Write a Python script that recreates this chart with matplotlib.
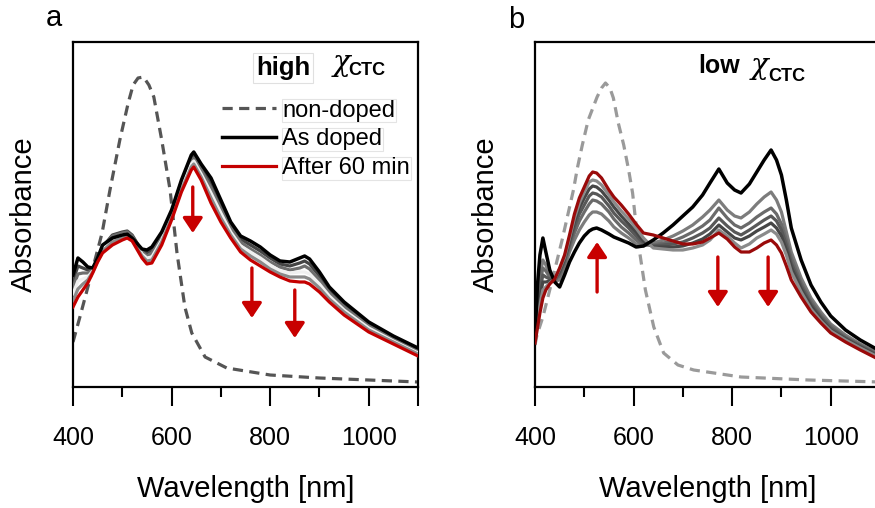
import matplotlib
matplotlib.use("Agg")
import matplotlib.pyplot as plt
from matplotlib.ticker import FixedLocator

plt.rcParams['font.family'] = ['Liberation Sans', 'DejaVu Sans']

# ---------------- Panel a (high chi_CTC) ----------------
wl_a = [400, 410, 420, 430, 440, 450, 460, 480, 500, 510, 520, 540, 550, 560, 580,
        600, 620, 640, 645, 660, 680, 700, 720, 740, 760, 780, 800, 820, 840, 860,
        870, 880, 900, 920, 950, 1000, 1050, 1100]
as_doped_a = [112, 129, 125, 120, 119, 129, 142, 149, 152, 153, 149, 138, 137, 140, 155,
              177, 207, 232, 235, 223, 209, 187, 165, 151, 146, 140, 132, 126, 125, 129,
              131, 128, 115, 100, 85, 65, 51, 39]
mid1_a = [106, 121, 119, 117, 118, 128, 140, 152, 155, 156, 152, 136, 134, 137, 152,
          175, 205, 229, 232, 220, 204, 183, 162, 148, 142, 136, 129, 123, 121, 124,
          126, 123, 111, 97, 82, 63, 49, 37]
mid2_a = [99, 113, 114, 114, 117, 127, 139, 151, 154, 155, 151, 135, 131, 134, 150,
          173, 202, 226, 229, 217, 199, 178, 159, 145, 138, 132, 125, 120, 117, 119,
          121, 118, 107, 94, 80, 61, 48, 36]
mid3_a = [93, 106, 108, 110, 116, 127, 137, 148, 152, 153, 149, 133, 129, 130, 147,
          171, 200, 223, 226, 213, 194, 174, 155, 141, 135, 129, 122, 116, 114, 115,
          115, 113, 103, 91, 77, 59, 46, 34]
mid4_a = [86, 98, 103, 107, 115, 126, 136, 145, 149, 151, 147, 131, 126, 127, 145,
          169, 197, 220, 223, 210, 189, 169, 152, 138, 131, 125, 118, 113, 110, 110,
          110, 108, 99, 88, 75, 57, 45, 33]
after60_a = [80, 90, 97, 104, 114, 125, 134, 142, 147, 149, 146, 129, 123, 124, 142,
             167, 195, 217, 220, 207, 184, 165, 149, 135, 127, 121, 115, 110, 106, 105,
             105, 103, 95, 85, 72, 55, 43, 31]
wl_nd_a = [400, 414, 434, 459, 475, 495, 512, 522, 532, 543, 554, 564, 580, 597, 611,
           627, 641, 668, 712, 800, 900, 1000, 1100]
nondoped_a = [45, 70, 107, 154, 197, 247, 284, 302, 309, 310, 302, 290, 247, 197, 134,
              80, 54, 30, 19, 12, 9, 7, 5]

# ---------------- Panel b (low chi_CTC) ----------------
wl_b = [400, 405, 410, 416, 422, 430, 440, 450, 460, 470, 480, 490, 500, 510, 517,
        525, 535, 550, 560, 575, 590, 605, 620, 640, 660, 680, 700, 720, 740, 755,
        773, 790, 805, 818, 835, 850, 865, 879, 890, 900, 910, 920, 940, 960, 980,
        1000, 1030, 1060, 1100]
as_doped_b = [50, 102, 132, 149, 135, 117, 105, 100, 112, 125, 135, 144, 151, 156, 158,
              159, 157, 153, 150, 147, 144, 140, 141, 147, 154, 162, 171, 180, 192, 204,
              218, 204, 197, 194, 203, 215, 227, 237, 227, 212, 187, 159, 127, 102, 85,
              71, 57, 47, 36]
mid1_b = [52, 87, 112, 127, 122, 112, 106, 107, 119, 135, 147, 157, 165, 172, 175,
          175, 173, 166, 160, 154, 149, 143, 141, 144, 147, 151, 156, 162, 170, 177,
          187, 177, 171, 169, 175, 183, 190, 195, 187, 175, 155, 135, 109, 89, 75,
          63, 52, 43, 33]
mid2_b = [50, 82, 104, 119, 116, 110, 107, 111, 123, 140, 154, 166, 175, 183, 187,
          186, 183, 175, 168, 160, 154, 147, 142, 142, 144, 146, 150, 155, 161, 167,
          179, 169, 162, 159, 164, 170, 175, 179, 173, 163, 147, 129, 104, 86, 72,
          61, 50, 42, 32]
mid3_b = [48, 77, 97, 112, 110, 108, 107, 114, 126, 143, 160, 173, 182, 191, 194,
          193, 190, 181, 174, 166, 159, 151, 144, 141, 142, 143, 145, 149, 154, 159,
          169, 161, 155, 152, 157, 162, 167, 171, 166, 157, 142, 124, 101, 83, 70,
          59, 49, 41, 31]
mid4_b = [47, 72, 90, 105, 105, 106, 108, 116, 128, 146, 165, 179, 189, 198, 201,
          200, 196, 187, 180, 171, 163, 155, 146, 140, 140, 140, 141, 144, 148, 153,
          162, 155, 149, 147, 151, 156, 160, 164, 159, 151, 137, 120, 98, 81, 68,
          57, 48, 40, 30]
mid5_b = [45, 65, 82, 97, 100, 104, 108, 118, 130, 149, 169, 184, 195, 205, 207,
          206, 202, 192, 185, 176, 168, 159, 149, 139, 138, 137, 137, 139, 142, 147,
          157, 151, 144, 139, 143, 149, 153, 157, 153, 145, 132, 115, 95, 78, 66,
          56, 47, 39, 29]
after60_b = [44, 59, 74, 89, 97, 103, 108, 119, 132, 152, 173, 189, 200, 211, 215,
             214, 209, 197, 190, 182, 173, 163, 154, 152, 149, 146, 143, 143, 145, 149,
             154, 148, 140, 135, 135, 139, 144, 147, 142, 134, 121, 107, 90, 75, 64,
             54, 45, 37, 27]
wl_nd_b = [400, 404, 416, 435, 455, 478, 486, 496, 508, 526, 535, 543, 552, 559, 569,
           580, 590, 598, 608, 624, 641, 661, 690, 722, 818, 955, 1100]
nondoped_b = [42, 52, 70, 107, 147, 197, 219, 242, 267, 290, 299, 304, 299, 289, 264,
              242, 217, 194, 149, 97, 60, 34, 22, 17, 10, 7, 5]

x_major = [400, 600, 800, 1000, 1100]
x_major_labels = ['400', '600', '800', '1000', '']
x_minor = [500, 700, 900]

RED_A = '#c40000'
RED_B = '#9a0a0a'
ARROW = '#c80000'
LW = 2.3

fig = plt.figure(figsize=(8.75, 5.08), dpi=100)
ax_a = fig.add_axes([73 / 875, 121 / 508, 345 / 875, 345 / 508])
ax_b = fig.add_axes([535 / 875, 121 / 508, 345 / 875, 345 / 508])


def style_axes(ax):
    ax.set_xlim(400, 1100)
    ax.set_ylim(0, 345)
    for s in ax.spines.values():
        s.set_linewidth(1.6)
    ax.xaxis.set_major_locator(FixedLocator(x_major))
    ax.set_xticklabels(x_major_labels)
    ax.xaxis.set_minor_locator(FixedLocator(x_minor))
    ax.tick_params(axis='x', which='major', direction='out', length=14, width=1.5,
                   labelsize=18, pad=14)
    ax.tick_params(axis='x', which='minor', direction='out', length=7.5, width=1.5)
    ax.set_yticks([])
    ax.set_xlabel('Wavelength [nm]', fontsize=21, labelpad=18)
    ax.set_ylabel('Absorbance', fontsize=21, labelpad=25)


def arrow(ax, x, y0, y1):
    ax.annotate('', xy=(x, y1), xytext=(x, y0),
                arrowprops=dict(arrowstyle='-|>,head_width=0.6,head_length=0.9',
                                color=ARROW, lw=2.4, shrinkA=0, shrinkB=0,
                                mutation_scale=10))


# ---- panel a ----
ax = ax_a
ax.plot(wl_nd_a, nondoped_a, color='#555555', lw=LW, dashes=(3.2, 2.0),
        label='non-doped', zorder=2)
ax.plot(wl_a, mid1_a, color='#444444', lw=LW, zorder=3)
ax.plot(wl_a, mid2_a, color='#6e6e6e', lw=LW, zorder=3)
ax.plot(wl_a, mid3_a, color='#f0f0f0', lw=LW, zorder=3)
ax.plot(wl_a, mid4_a, color='#8a8a8a', lw=LW, zorder=3)
ax.plot(wl_a, as_doped_a, color='black', lw=LW + 0.2, label='As doped', zorder=4)
ax.plot(wl_a, after60_a, color=RED_A, lw=LW, label='After 60 min', zorder=5)
style_axes(ax)
arrow(ax, 643, 200, 154)
arrow(ax, 763, 119, 69)
arrow(ax, 850, 97, 49)

leg = ax.legend(loc='upper left', bbox_to_anchor=(0.432, 0.833), frameon=False,
                fontsize=17, handlelength=2.3, handletextpad=0.25, labelspacing=0.29,
                borderpad=0, borderaxespad=0)
for t in leg.get_texts():
    t.set_bbox(dict(facecolor='none', edgecolor='#e4e4e4', lw=0.8, pad=0.5))

box = dict(facecolor='none', edgecolor='#e0e0e0', lw=0.8, pad=2)
ax.text(0.609, 0.904, 'high', transform=ax.transAxes, fontsize=18.5,
        fontweight='bold', ha='center', va='baseline', bbox=box)
ax.text(0.777, 0.916, 'χ', transform=ax.transAxes, fontsize=21, style='italic',
        family=['DejaVu Serif'], ha='center', va='baseline')
ax.text(0.797, 0.904, 'CTC', transform=ax.transAxes, fontsize=13,
        fontweight='bold', ha='left', va='baseline')

# ---- panel b ----
ax = ax_b
ax.plot(wl_nd_b, nondoped_b, color='#9a9a9a', lw=LW, dashes=(3.2, 2.0), zorder=2)
ax.plot(wl_b, mid1_b, color='#7c7c7c', lw=LW, zorder=3)
ax.plot(wl_b, mid2_b, color='#6a6a6a', lw=LW, zorder=3)
ax.plot(wl_b, mid3_b, color='#585858', lw=LW, zorder=3)
ax.plot(wl_b, mid4_b, color='#464646', lw=LW, zorder=3)
ax.plot(wl_b, mid5_b, color='#8a8a8a', lw=LW, zorder=3)
ax.plot(wl_b, as_doped_b, color='black', lw=LW + 0.2, zorder=4)
ax.plot(wl_b, after60_b, color=RED_B, lw=LW, zorder=5)
style_axes(ax)
arrow(ax, 526, 95, 145)
arrow(ax, 771, 130, 80)
arrow(ax, 873, 130, 80)

ax.text(0.533, 0.910, 'low', transform=ax.transAxes, fontsize=18,
        fontweight='bold', ha='center', va='baseline')
ax.text(0.652, 0.907, 'χ', transform=ax.transAxes, fontsize=21, style='italic',
        family=['DejaVu Serif'], ha='center', va='baseline')
ax.text(0.675, 0.887, 'CTC', transform=ax.transAxes, fontsize=13,
        fontweight='bold', ha='left', va='baseline')

fig.text(54 / 875, 1 - 18 / 508, 'a', fontsize=21, ha='center', va='center')
fig.text(516 / 875, 1 - 20 / 508, 'b', fontsize=21, ha='center', va='center')

fig.savefig('out.png', dpi=100)
